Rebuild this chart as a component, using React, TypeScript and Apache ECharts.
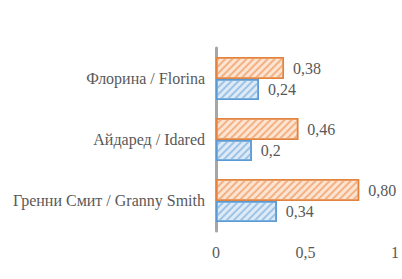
import React, { useEffect, useRef } from "react";
import * as echarts from "echarts";

const categories = ["Гренни Смит / Granny Smith", "Айдаред / Idared", "Флорина / Florina"];
const blueValues = [0.34, 0.2, 0.24];
const blueLabels = ["0,34", "0,2", "0,24"];
const orangeValues = [0.8, 0.46, 0.38];
const orangeLabels = ["0,80", "0,46", "0,38"];
const xTicks = { min: 0, max: 1, interval: 0.5 };

const FONT = "serif";
const FS = 16;

function buildOption() {
  const labelStyle = {
    show: true,
    position: "right" as const,
    distance: 9,
    fontFamily: FONT,
    fontSize: FS,
    color: "#595959",
  };
  const decal = (color: string) => ({
    symbol: "rect",
    symbolSize: 1,
    dashArrayX: [[1, 0]],
    dashArrayY: [2, 3],
    rotation: -Math.PI / 4,
    color,
  });
  return {
    animation: false,
    textStyle: { fontFamily: FONT, fontSize: FS },
    grid: { left: 216, right: 5, top: 48, bottom: 48 },
    xAxis: {
      type: "value",
      min: xTicks.min,
      max: xTicks.max,
      interval: xTicks.interval,
      axisLine: { show: false },
      axisTick: { show: false },
      splitLine: { show: false },
      axisLabel: {
        fontFamily: FONT,
        fontSize: FS,
        color: "#595959",
        margin: 13,
        formatter: (v: number) => String(v).replace(".", ","),
      },
    },
    yAxis: {
      type: "category",
      data: categories,
      axisLine: { show: true, lineStyle: { color: "#A6A6A6", width: 3 } },
      axisTick: { show: false },
      axisLabel: {
        fontFamily: FONT,
        fontSize: FS,
        color: "#595959",
        margin: 11,
      },
    },
    series: [
      {
        type: "bar",
        data: orangeValues,
        barWidth: 22,
        barGap: "0%",
        itemStyle: {
          color: "#FCE4D3",
          borderColor: "#E2843F",
          borderWidth: 1.5,
          decal: decal("#F4B183"),
        },
        label: { ...labelStyle, formatter: (p: any) => orangeLabels[p.dataIndex] },
      },
      {
        type: "bar",
        data: blueValues,
        barWidth: 21,
        barGap: "0%",
        itemStyle: {
          color: "#DEEBF7",
          borderColor: "#5B9BD5",
          borderWidth: 1.5,
          decal: decal("#9DC3E6"),
        },
        label: { ...labelStyle, formatter: (p: any) => blueLabels[p.dataIndex] },
      },
    ],
  };
}

export default function App() {
  const ref = useRef<HTMLDivElement>(null);
  useEffect(() => {
    if (!ref.current) return;
    const chart = echarts.init(ref.current, undefined, { renderer: "svg" });
    chart.setOption(buildOption());
    return () => {
      chart.dispose();
    };
  }, []);
  return (
    <div style={{ position: "absolute", left: 0, top: 0, width: 402, height: 279, background: "#fff" }}>
      <div ref={ref} style={{ position: "absolute", left: 0, top: 0, width: 402, height: 279 }} />
    </div>
  );
}
